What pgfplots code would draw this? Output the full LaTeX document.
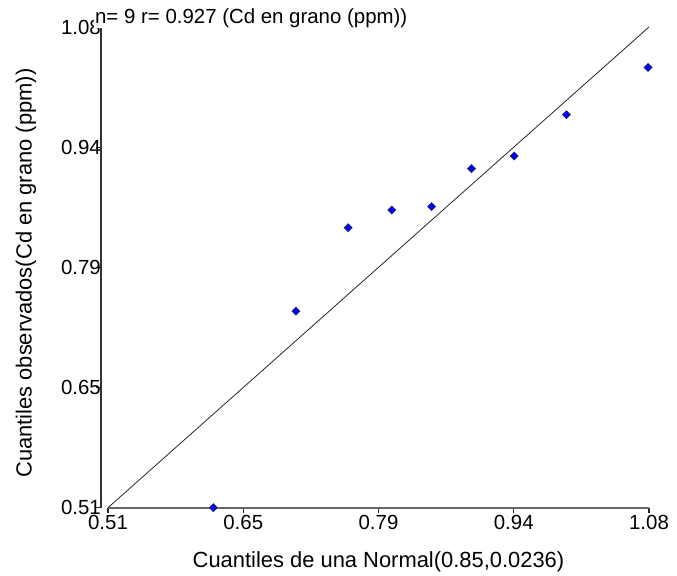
\documentclass[border=0pt]{standalone}
\usepackage{fontspec}
\setmainfont{Liberation Sans}
\usepackage{pgfplots}
\pgfplotsset{compat=1.18}
\begin{document}
\begin{tikzpicture}[font=\fontsize{20.5}{24}\selectfont]
\useasboundingbox (-108bp,-68.3bp) rectangle (569bp,507.7bp);
\begin{axis}[
  at={(0,0)}, anchor=south west,
  scale only axis, width=541bp, height=480.7bp,
  xmin=0.51, xmax=1.08, ymin=0.51, ymax=1.08,
  clip=false,
  axis lines*=left,
  axis line style={-},
  x axis line style={black!60, line width=1.8bp},
  y axis line style={black!80, line width=1.1bp, xshift=-7bp},
  tick align=outside, major tick length=5bp,
  tick style={black!85, line width=1.2bp},
  ytick style={xshift=-7bp},
  xtick={0.51,0.6525,0.795,0.9375,1.08},
  xticklabels={0.51,0.65,0.79,0.94,1.08},
  ytick={0.51,0.6525,0.795,0.9375,1.08},
  yticklabels={0.51,0.65,0.79,0.94,1.08},
  /pgf/number format/assume math mode=true,
  xticklabel style={inner sep=2bp},
  yticklabel style={inner sep=2bp},
  xlabel={Cuantiles de una Normal(0.85,0.0236)},
  ylabel={Cuantiles observados(Cd en grano (ppm))},
  label style={font=\fontsize{22}{26}\selectfont},
  xlabel style={at={(axis description cs:0.5,-0.1244)}, anchor=base},
  ylabel style={at={(axis description cs:-0.1516,0.488)}, anchor=center, rotate=0},
  title={n= 9 r= 0.927 (Cd en grano (ppm))},
  title style={at={(axis description cs:-0.026,0.9958)}, anchor=base west,
    yshift=0pt, fill=white, inner sep=1bp},
]
% baseline along the x axis
\addplot[black!60, line width=1.8bp, forget plot] coordinates {(0.51,0.51) (1.08,0.51)};
% reference line y = x
\addplot[black!85, line width=0.8bp] coordinates {(0.51,0.51) (1.08,1.08)};
% observed vs. theoretical quantiles
\addplot[only marks, mark=square*, mark size=2.9bp,
  mark options={rotate=45, fill=blue, draw=black!80, line width=0.5bp}]
  coordinates {
    (0.621,0.510)
    (0.708,0.743)
    (0.763,0.842)
    (0.809,0.863)
    (0.851,0.867)
    (0.893,0.912)
    (0.938,0.927)
    (0.993,0.976)
    (1.079,1.032)
  };
\end{axis}
\end{tikzpicture}
\end{document}
